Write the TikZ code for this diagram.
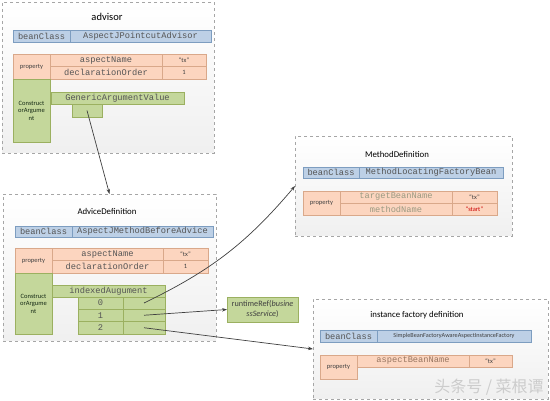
\documentclass[tikz,border=0pt]{standalone}
\usepackage{fontspec}
\setmainfont{Carlito}
\newfontfamily\monof{Liberation Mono}
\newfontfamily\cjk{Noto Sans CJK SC}
\usetikzlibrary{arrows.meta,shadows}
\definecolor{bluef}{HTML}{BDD0E6}
\definecolor{blued}{HTML}{7D9DC0}
\definecolor{orf}{HTML}{FCD5BF}
\definecolor{ord}{HTML}{D9A88A}
\definecolor{grf}{HTML}{C4D79B}
\definecolor{grd}{HTML}{9BB060}
\definecolor{txt}{HTML}{404040}
\definecolor{monot}{HTML}{555555}
\definecolor{lite}{HTML}{9A9A82}
\begin{document}
\begin{tikzpicture}[x=1pt,y=-1pt,
  box/.style={anchor=north west,inner sep=0pt,outer sep=0pt,align=center,text=txt},
  cont/.style={box,draw=gray!70,dashed,line width=0.6pt,top color=white,bottom color=gray!12},
  bl/.style={box,draw=blued,fill=bluef,line width=0.5pt,drop shadow={opacity=0.2,shadow xshift=1pt,shadow yshift=-1pt}},
  orc/.style={box,draw=ord,fill=orf,line width=0.5pt,drop shadow={opacity=0.2,shadow xshift=1pt,shadow yshift=-1pt}},
  grc/.style={box,draw=grd,fill=grf,line width=0.5pt,drop shadow={opacity=0.2,shadow xshift=1pt,shadow yshift=-1pt}},
  mono/.style={font=\monof\fontsize{8.7}{9}\selectfont,text=monot},
  small/.style={font=\fontsize{6.5}{7.5}\selectfont},
  title/.style={inner sep=0pt,text=black,font=\fontsize{8.8}{10}\selectfont},
  conn/.style={draw=txt,line width=0.7pt,-{Stealth[length=5pt,width=3.5pt]}}
]
\useasboundingbox (0,0) rectangle (550,401);
\newcommand\cell[7]{\node[#2,minimum width=#5pt,minimum height=#6pt] (#1) at (#3,#4) {#7};}
% containers
\cell{advisor}{cont}{2}{2}{212}{151}{}
\cell{advice}{cont}{3}{194}{213}{147}{}
\cell{method}{cont}{295}{136}{217}{100}{}
\cell{factory}{cont}{313}{299}{235}{100}{}
% advisor
\node[title,font=\fontsize{10.5}{11}\selectfont] (at) at (107,17) {advisor};
\cell{abc}{bl,mono}{13}{30}{57}{12}{beanClass}
\cell{abcv}{bl,mono}{70}{30}{141}{12}{AspectJPointcutAdvisor}
\cell{aprop}{orc,small}{13}{54}{37}{25}{property}
\cell{an1}{orc,mono}{50}{54}{112}{12.5}{aspectName}
\cell{av1}{orc,small}{162}{54}{44}{12.5}{“tx”}
\cell{an2}{orc,mono}{50}{66.5}{112}{12.5}{declarationOrder}
\cell{av2}{orc,small}{162}{66.5}{44}{12.5}{1}
\cell{actor}{grc,small,text=txt!80!green!40!black}{13}{79}{37}{63}{Construct\\orArgume\\nt}
\cell{agav}{grc,mono}{51}{92}{133}{12}{GenericArgumentValue}
\cell{agsub}{grc}{72}{104}{30}{13}{}
% advice definition
\node[title] (dt) at (107,211) {AdviceDefinition};
\cell{dbc}{bl,mono}{15}{226}{57}{11}{beanClass}
\cell{dbcv}{bl,mono}{72}{226}{141}{11}{AspectJMethodBeforeAdvice}
\cell{dprop}{orc,small}{15}{248}{37}{25}{property}
\cell{dn1}{orc,mono}{52}{248}{111}{12.5}{aspectName}
\cell{dv1}{orc,small}{163}{248}{45}{12.5}{“tx”}
\cell{dn2}{orc,mono}{52}{260.5}{111}{12.5}{declarationOrder}
\cell{dv2}{orc,small}{163}{260.5}{45}{12.5}{1}
\cell{dctor}{grc,small,text=txt!80!green!40!black}{15}{273}{37}{61}{Construct\\orArgume\\nt}
\cell{didx}{grc,mono}{52}{285}{113}{12}{indexedAugument}
\cell{dr0k}{grc,mono}{78}{297}{45}{12}{0}
\cell{dr0v}{grc}{123}{297}{42}{12}{}
\cell{dr1k}{grc,mono}{78}{309}{45}{12.5}{1}
\cell{dr1v}{grc}{123}{309}{42}{12.5}{}
\cell{dr2k}{grc,mono}{78}{321.5}{45}{12.5}{2}
\cell{dr2v}{grc}{123}{321.5}{42}{12.5}{}
% runtimeRef
\cell{rt}{grc,font=\fontsize{8.2}{10}\selectfont}{227}{297}{71}{25}{runtimeRef(\textit{busine}\\\textit{ssService})}
% method definition
\node[title] (mt) at (397,154) {MethodDefinition};
\cell{mbc}{bl,mono}{303}{167}{56}{11}{beanClass}
\cell{mbcv}{bl,mono}{359}{167}{144}{11}{MethodLocatingFactoryBean}
\cell{mprop}{orc,small}{303}{191}{37}{24}{property}
\cell{mn1}{orc,mono,text=lite}{340}{191}{112}{12}{targetBeanName}
\cell{mv1}{orc,small}{452}{191}{45}{12}{“tx”}
\cell{mn2}{orc,mono,text=lite}{340}{203}{112}{12}{methodName}
\cell{mv2}{orc,small,text=red!80!black}{452}{203}{45}{12}{“start”}
% instance factory definition
\node[title] (ft) at (417,315) {instance factory definition};
\cell{fbc}{bl,mono}{320}{330}{57}{12}{beanClass}
\cell{fbcv}{bl,font=\fontsize{6.2}{7}\selectfont}{377}{330}{154}{12}{SimpleBeanFactoryAwareAspectInstanceFactory}
\cell{fprop}{orc,small}{320}{355}{37}{24}{property}
\cell{fn1}{orc,mono,text=ord!70!black}{357}{355}{112}{12}{aspectBeanName}
\cell{fv1}{orc,small}{469}{355}{43}{12}{“tx”}
% watermark
\node[inner sep=0pt,text=gray!40,font=\cjk\fontsize{16}{18}\selectfont] (wm) at (489,387) {头条号 / 菜根谭};
% connectors
\draw[conn] (agsub.center) -- (advice.north);
\draw[conn] (dr0v.center) to[bend right=12] (method.west);
\draw[conn] (dr1v.center) -- (rt.west);
\draw[conn] (dr2v.center) -- (factory.west);
\end{tikzpicture}
\end{document}
